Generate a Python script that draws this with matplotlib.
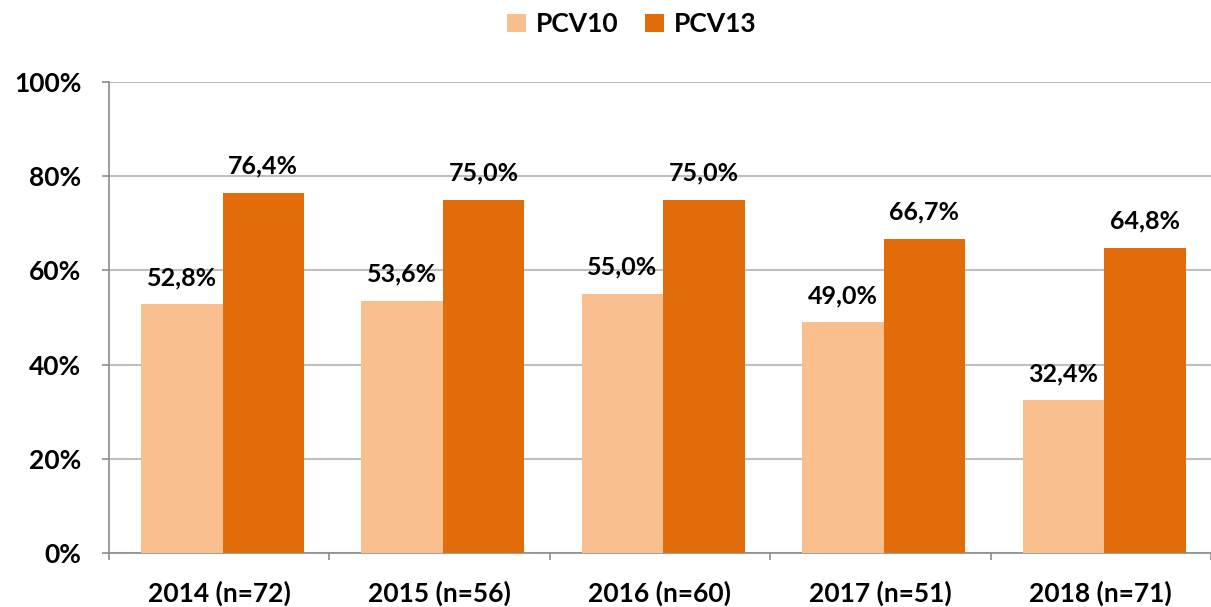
import numpy as np
import matplotlib
matplotlib.use('Agg')
import matplotlib.pyplot as plt
from matplotlib.ticker import FixedLocator, PercentFormatter

# Data
categories = ['2014 (n=72)', '2015 (n=56)', '2016 (n=60)', '2017 (n=51)', '2018 (n=71)']
pcv10 = [52.8, 53.6, 55.0, 49.0, 32.4]
pcv13 = [76.4, 75.0, 75.0, 66.7, 64.8]
series_names = ['PCV10', 'PCV13']

colors = {
    'pcv10': '#F9BF8F',
    'pcv13': '#E36C0A',
    'grid': '#BFBFBF',
    'axis': '#8C8C8C',
    'text': '#000000',
}

plt.rcParams['font.family'] = ['Lato', 'DejaVu Sans']

fig = plt.figure(figsize=(12.11, 6.07), dpi=100)
ax = fig.add_axes([109 / 1211, 1 - 553 / 607, (1211 - 109) / 1211, (553 - 82) / 607])

x = np.arange(len(categories))
w = 0.37
off = 0.015
b1 = ax.bar(x - w / 2 + off, pcv10, w, color=colors['pcv10'], label=series_names[0], zorder=3)
b2 = ax.bar(x + w / 2 + off, pcv13, w, color=colors['pcv13'], label=series_names[1], zorder=3)

for bars, vals in ((b1, pcv10), (b2, pcv13)):
    for rect, v in zip(bars, vals):
        ax.annotate(f'{v:.1f}%'.replace('.', ','),
                    (rect.get_x() + rect.get_width() / 2, v),
                    xytext=(0, 11), textcoords='offset points',
                    ha='center', va='bottom', fontsize=18, fontweight='bold',
                    color=colors['text'])

ax.set_xlim(-0.5, len(categories) - 0.5)
ax.set_ylim(0, 100)
ax.yaxis.set_major_locator(FixedLocator([0, 20, 40, 60, 80, 100]))
ax.yaxis.set_major_formatter(PercentFormatter(decimals=0))

ax.set_xticks(x)
ax.set_xticklabels(categories)
ax.set_xticks(np.arange(len(categories) + 1) - 0.5, minor=True)
ax.tick_params(axis='x', which='major', length=0, pad=20)
ax.tick_params(axis='x', which='minor', length=5, width=1.2, color=colors['axis'])
ax.tick_params(axis='y', length=5, width=1.2, color=colors['axis'], pad=15)

for lab in ax.get_xticklabels() + ax.get_yticklabels():
    lab.set_fontsize(19)
    lab.set_fontweight('bold')

ax.grid(axis='y', color=colors['grid'], linewidth=1.5, zorder=0)
ax.spines['top'].set_visible(False)
ax.spines['right'].set_visible(False)
ax.spines['left'].set_color(colors['axis'])
ax.spines['bottom'].set_color(colors['axis'])
ax.spines['left'].set_linewidth(1.2)
ax.spines['bottom'].set_linewidth(1.2)

fig.legend(handles=[b1, b2], labels=series_names, loc='center', ncol=2,
           bbox_to_anchor=(0.522, 1 - 24 / 607), frameon=False,
           prop={'size': 19, 'weight': 'bold'}, handlelength=0.7, handleheight=0.7,
           handletextpad=0.4, columnspacing=1.0)

fig.savefig('out.png', dpi=100, facecolor='white')
